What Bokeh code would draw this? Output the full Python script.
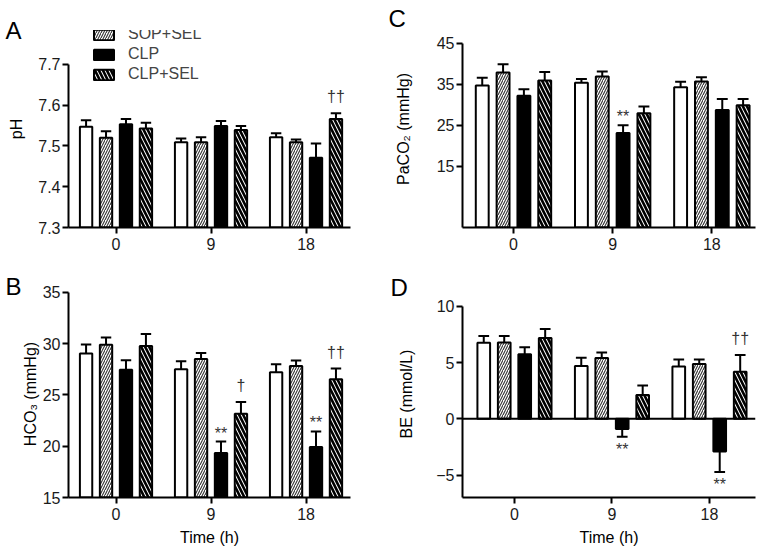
from bokeh.plotting import figure
from bokeh.models import (Range1d, FixedTicker, Legend, LegendItem, Title, Span,
                          ColumnDataSource, PrintfTickFormatter)
from bokeh.layouts import column, row
from bokeh.embed import file_html
from bokeh.resources import INLINE
from bokeh.core.properties import value

# ---------------- data ----------------
time_labels = ["0", "9", "18"]
groups = ["SOP", "SOP+SEL", "CLP", "CLP+SEL"]

# A: pH
ph_sop = [7.547, 7.509, 7.521]
ph_sop_sel = [7.520, 7.509, 7.509]
ph_clp = [7.553, 7.549, 7.471]
ph_clp_sel = [7.543, 7.539, 7.566]
ph_sop_sem = [0.016, 0.009, 0.010]
ph_sop_sel_sem = [0.016, 0.012, 0.007]
ph_clp_sem = [0.013, 0.012, 0.035]
ph_clp_sel_sem = [0.014, 0.010, 0.014]

# B: HCO3
hco3_sop = [29.05, 27.52, 27.23]
hco3_sop_sel = [29.90, 28.50, 27.82]
hco3_clp = [27.46, 19.35, 19.93]
hco3_clp_sel = [29.77, 23.17, 26.53]
hco3_sop_sem = [0.88, 0.78, 0.77]
hco3_sop_sel_sem = [0.70, 0.59, 0.55]
hco3_clp_sem = [0.94, 1.11, 1.51]
hco3_clp_sel_sem = [1.18, 1.14, 1.05]

# C: PaCO2
paco2_sop = [34.7, 35.4, 34.3]
paco2_sop_sel = [37.9, 36.9, 35.7]
paco2_clp = [32.2, 23.1, 28.7]
paco2_clp_sel = [35.9, 27.9, 29.9]
paco2_sop_sem = [1.9, 0.9, 1.3]
paco2_sop_sel_sem = [2.0, 1.2, 1.0]
paco2_clp_sem = [1.6, 1.9, 2.7]
paco2_clp_sel_sem = [2.1, 1.7, 1.5]

# D: BE
be_sop = [6.76, 4.70, 4.65]
be_sop_sel = [6.79, 5.41, 4.88]
be_clp = [5.74, -0.91, -2.91]
be_clp_sel = [7.20, 2.12, 4.18]
be_sop_sem = [0.62, 0.74, 0.64]
be_sop_sel_sem = [0.59, 0.50, 0.41]
be_clp_sem = [0.64, 0.68, 1.83]
be_clp_sel_sem = [0.80, 0.85, 1.50]

# significance marks: (group, time index, text)
marks_a = [("CLP+SEL", 2, "††")]
marks_b = [("CLP", 1, "**"), ("CLP+SEL", 1, "†"), ("CLP", 2, "**"), ("CLP+SEL", 2, "††")]
marks_c = [("CLP", 1, "**")]
marks_d = [("CLP", 1, "**"), ("CLP", 2, "**"), ("CLP+SEL", 2, "††")]

# ---------------- styling ----------------
FONT = "Liberation Sans"
offsets = [-0.315, -0.105, 0.105, 0.315]
BAR_W = 0.13
CAP_W = 0.11
styles = {
    "SOP": dict(fill_color="white"),
    "SOP+SEL": dict(fill_color="white", hatch_pattern="/", hatch_color="#333333",
                    hatch_scale=5, hatch_weight=1.1),
    "CLP": dict(fill_color="black"),
    "CLP+SEL": dict(fill_color="white", hatch_pattern="\\", hatch_color="black",
                    hatch_scale=8, hatch_weight=2.6),
}


def panel(letter, means, sems, marks, base, yr, xr, yticks, ybounds, ylabel,
          width, height, borders, letter_pos, xlabel=None, fmt=None, ystandoff=10,
          zero_line=False):
    bl, br, bt, bb = borders
    loff, lstand = letter_pos
    title = Title(text=letter, align="left", offset=loff, standoff=lstand,
                  text_font=FONT, text_font_size="24px", text_font_style="normal",
                  text_color="black", vertical_align="bottom")
    p = figure(width=width, height=height, output_backend="svg", toolbar_location=None,
               x_range=Range1d(*xr), y_range=Range1d(*yr), title=title,
               min_border_left=bl, min_border_right=br, min_border_top=bt,
               min_border_bottom=bb)
    p.outline_line_color = None
    p.grid.visible = False
    p.background_fill_color = None
    p.border_fill_color = None

    if zero_line:
        p.add_layout(Span(location=0, dimension="width", line_color="black", line_width=2))

    renderers = {}
    for gi, g in enumerate(groups):
        xs = [i + offsets[gi] for i in range(len(time_labels))]
        vals = means[gi]
        errs = sems[gi]
        ends = [v + e if v >= base else v - e for v, e in zip(vals, errs)]
        src = ColumnDataSource(dict(x=xs, top=vals, end=ends,
                                    x0=[x - CAP_W / 2 for x in xs],
                                    x1=[x + CAP_W / 2 for x in xs]))
        p.segment(x0="x", y0="top", x1="x", y1="end", source=src,
                  line_color="black", line_width=2)
        p.segment(x0="x0", y0="end", x1="x1", y1="end", source=src,
                  line_color="black", line_width=2)
        r = p.vbar(x="x", top="top", bottom=base, width=BAR_W, source=src,
                   line_color="black", line_width=2, **styles[g])
        renderers[g] = r
        for (mg, ti, txt) in marks:
            if mg != g:
                continue
            v, e = vals[ti], ends[ti]
            above = v >= base
            if above:
                yoff = 0 if txt.startswith("*") else -8
                baseline = "bottom"
            else:
                yoff = 4
                baseline = "top"
            p.text(x=[xs[ti]], y=[e], text=[txt], text_align="center",
                   text_baseline=baseline, y_offset=yoff,
                   text_font=value(FONT), text_font_size="16px", text_color="#333333")

    # axes
    xa = p.xaxis[0]
    xa.ticker = FixedTicker(ticks=[0, 1, 2])
    xa.major_label_overrides = {i: t for i, t in enumerate(time_labels)}
    ya = p.yaxis[0]
    ya.ticker = FixedTicker(ticks=yticks)
    ya.bounds = ybounds
    if fmt:
        ya.formatter = PrintfTickFormatter(format=fmt)
    for ax in (xa, ya):
        ax.axis_line_width = 2
        ax.axis_line_color = "black"
        ax.major_tick_line_width = 2
        ax.major_tick_line_color = "black"
        ax.major_tick_out = 6
        ax.major_tick_in = 0
        ax.minor_tick_line_color = None
        ax.major_label_text_font = FONT
        ax.major_label_text_font_size = "16px"
        ax.major_label_text_color = "#1a1a1a"
        ax.axis_label_text_font = FONT
        ax.axis_label_text_font_size = "16px"
        ax.axis_label_text_font_style = "normal"
        ax.axis_label_text_color = "black"
    xa.major_label_standoff = 4
    ya.major_label_standoff = 2
    ya.axis_label = ylabel
    ya.axis_label_standoff = ystandoff
    if xlabel:
        xa.axis_label = xlabel
        xa.axis_label_standoff = 6
    return p, renderers


pA, rA = panel("A",
               [ph_sop, ph_sop_sel, ph_clp, ph_clp_sel],
               [ph_sop_sem, ph_sop_sel_sem, ph_clp_sem, ph_clp_sel_sem],
               marks_a, 7.3, (7.3, 7.783), (-0.5, 2.468),
               [7.3, 7.4, 7.5, 7.6, 7.7], (7.3, 7.7), "pH",
               383, 270, (68, 33, 0, 43), (-63, -26), fmt="%.1f", ystandoff=10)

legend = Legend(items=[LegendItem(label=g, renderers=[rA[g]]) for g in groups],
                location=(23, 144), padding=0, margin=0, spacing=2,
                glyph_width=25, glyph_height=13, label_standoff=12,
                label_text_font=FONT, label_text_font_size="16px",
                border_line_color=None, background_fill_alpha=0)
pA.add_layout(legend)

pC, _ = panel("C",
              [paco2_sop, paco2_sop_sel, paco2_clp, paco2_clp_sel],
              [paco2_sop_sem, paco2_sop_sel_sem, paco2_clp_sem, paco2_clp_sel_sem],
              marks_c, 0, (0, 48.15), (-0.514, 2.44),
              [15, 25, 35, 45], (0, 45), "PaCO₂ (mmHg)",
              375, 270, (79, 3, 30, 41), (-74, -3), ystandoff=22)

pB, _ = panel("B",
              [hco3_sop, hco3_sop_sel, hco3_clp, hco3_clp_sel],
              [hco3_sop_sem, hco3_sop_sel_sem, hco3_clp_sem, hco3_clp_sel_sem],
              marks_b, 15, (15, 35.195), (-0.5, 2.468),
              [15, 20, 25, 30, 35], (15, 35), "HCO₃ (mmHg)",
              383, 279, (68, 33, 20, 52), (-63, -18), xlabel="Time (h)", ystandoff=1)

pD, _ = panel("D",
              [be_sop, be_sop_sel, be_clp, be_clp_sel],
              [be_sop_sem, be_sop_sel_sem, be_clp_sem, be_clp_sel_sem],
              marks_d, 0, (-7, 11.42), (-0.533, 2.472),
              [-5, 0, 5, 10], (-7, 10), "BE (mmol/L)",
              375, 279, (79, 3, 20, 51), (-72, -20), xlabel="Time (h)", ystandoff=18,
              zero_line=True)

layout = column(row(pA, pC), row(pB, pD))
open("out.html", "w").write(file_html(layout, INLINE))
